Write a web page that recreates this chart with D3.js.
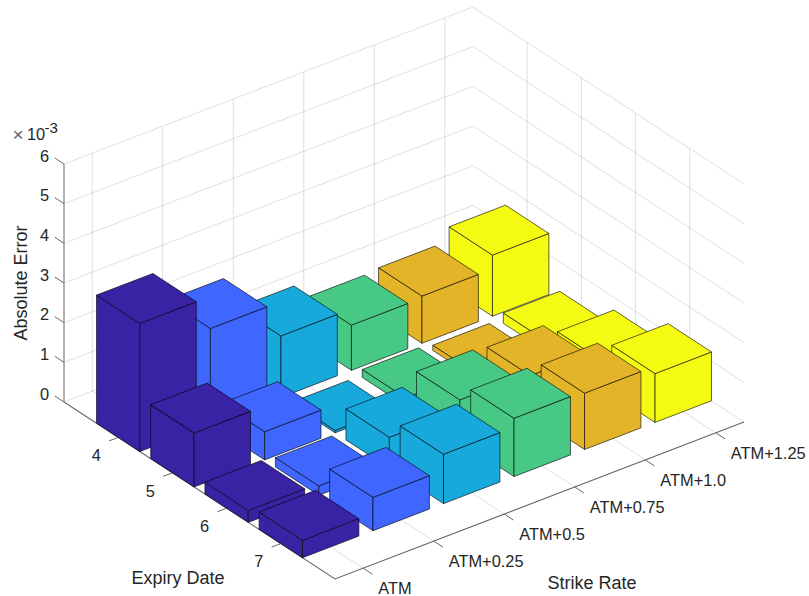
<!DOCTYPE html>
<html lang="en">
<head>
  <meta charset="UTF-8">
  <title>Absolute Error by Strike Rate and Expiry Date</title>
  <script src="https://d3js.org/d3.v7.min.js"></script>
  <style>
    body { margin: 0; background: #fff; }
    svg { display: block; }
    text { font-family: "Liberation Sans", Arial, sans-serif; fill: #262626; }
    .tick { font-size: 16.4px; }
    .label { font-size: 18px; }
  </style>
</head>
<body>
  <svg id="chart" width="809" height="596"></svg>

  <script>
    const strikeLabels = ["ATM", "ATM+0.25", "ATM+0.5", "ATM+0.75", "ATM+1.0", "ATM+1.25"];
    const expiryLabels = [4, 5, 6, 7];
    const zTicks = [0, 1, 2, 3, 4, 5, 6];

    // one array per expiry, values in units of 1e-3
    const expiry4 = [3.23, 2.42, 1.55, 1.14, 1.19, 1.54];
    const expiry5 = [1.36, 0.71, 0.06, 0.20, 0.13, 0.26];
    const expiry6 = [0.30, 0.235, 0.78, 1.04, 0.97, 0.68];
    const expiry7 = [0.44, 0.84, 1.245, 1.47, 1.42, 1.23];
    const values = [expiry4, expiry5, expiry6, expiry7];

    const colors = ["#3a22a5", "#3f66ff", "#17a9dc", "#47c885", "#e3b428", "#f5fa12"];

    const svg = d3.select("#chart");

    // the box is an oblique projection, so each data axis adds its own screen offset
    const uDomain = [-0.4, 5.4], vDomain = [3, 8];
    const uX = d3.scaleLinear().domain(uDomain).range([0, 409]);
    const uY = d3.scaleLinear().domain(uDomain).range([0, -157]);
    const vX = d3.scaleLinear().domain(vDomain).range([64, 335]);
    const vY = d3.scaleLinear().domain(vDomain).range([402, 579]);
    const zY = d3.scaleLinear().domain([0, 6]).range([0, -238]);

    const project = (u, v, z) => [uX(u) + vX(v), uY(u) + vY(v) + zY(z)];
    const line = d3.line();
    const path = pts => line(pts.map(p => project(p[0], p[1], p[2])));

    // grid
    const grid = svg.append("g")
      .attr("fill", "none")
      .attr("stroke", "#262626")
      .attr("stroke-opacity", 0.14)
      .attr("stroke-width", 1);

    const uEnd = uDomain[1], vBack = vDomain[0], vFront = vDomain[1], uStart = uDomain[0];

    zTicks.forEach(z => {
      grid.append("path").attr("d", path([[uStart, vBack, z], [uEnd, vBack, z], [uEnd, vFront, z]]));
    });
    strikeLabels.forEach((s, i) => {
      grid.append("path").attr("d", path([[i, vFront, 0], [i, vBack, 0], [i, vBack, 6]]));
    });
    expiryLabels.forEach(e => {
      grid.append("path").attr("d", path([[uStart, e, 0], [uEnd, e, 0], [uEnd, e, 6]]));
    });

    // axis lines and ticks
    const axes = svg.append("g").attr("fill", "none");
    axes.append("path")
      .attr("d", path([[uStart, vBack, 0], [uStart, vFront, 0], [uEnd, vFront, 0]]))
      .attr("stroke", "#666")
      .attr("stroke-width", 1.1);
    axes.append("path")
      .attr("d", path([[uStart, vBack, 0], [uStart, vBack, 6]]))
      .attr("stroke", "#999")
      .attr("stroke-width", 1.5);

    const tickLen = 0.13;
    strikeLabels.forEach((s, i) => {
      axes.append("path")
        .attr("d", path([[i, vFront, 0], [i, vFront + 0.17, 0]]))
        .attr("stroke", "#666");
      const p = project(i, vFront, 0);
      svg.append("text").attr("class", "tick")
        .attr("x", p[0] + 15).attr("y", p[1] + 20.5)
        .attr("dy", "0.35em")
        .text(s);
    });
    expiryLabels.forEach(e => {
      axes.append("path")
        .attr("d", path([[uStart, e, 0], [uStart - tickLen, e, 0]]))
        .attr("stroke", "#666");
      const p = project(uStart, e, 0);
      svg.append("text").attr("class", "tick")
        .attr("x", p[0] - 22).attr("y", p[1] + 18)
        .attr("dy", "0.35em")
        .attr("text-anchor", "middle")
        .text(e);
    });
    zTicks.forEach(z => {
      axes.append("path")
        .attr("d", path([[uStart, vBack, z], [uStart, vBack - 0.17, z]]))
        .attr("stroke", "#666");
      const p = project(uStart, vBack, z);
      svg.append("text").attr("class", "tick")
        .attr("x", p[0] - 15).attr("y", p[1] - 8)
        .attr("dy", "0.35em")
        .attr("text-anchor", "end")
        .text(z);
    });

    // bars, painted from the back corner forward
    const half = 0.4;
    const bars = svg.append("g")
      .attr("stroke", "#000")
      .attr("stroke-opacity", 0.68)
      .attr("stroke-width", 0.9)
      .attr("stroke-linejoin", "round");

    expiryLabels.forEach((e, row) => {
      d3.range(strikeLabels.length - 1, -1, -1).forEach(col => {
        const h = values[row][col];
        const u0 = col - half, u1 = col + half, v0 = e - half, v1 = e + half;
        const g = bars.append("g").attr("fill", colors[col]);
        // left face, right face, top
        g.append("path").attr("d", path([[u0, v0, 0], [u0, v1, 0], [u0, v1, h], [u0, v0, h]]) + "Z");
        g.append("path").attr("d", path([[u0, v1, 0], [u1, v1, 0], [u1, v1, h], [u0, v1, h]]) + "Z");
        g.append("path").attr("d", path([[u0, v0, h], [u0, v1, h], [u1, v1, h], [u1, v0, h]]) + "Z");
      });
    });

    // labels
    svg.append("text").attr("class", "label")
      .attr("text-anchor", "middle")
      .attr("transform", "translate(21,283) rotate(-90)")
      .attr("dy", "0.35em")
      .text("Absolute Error");
    svg.append("text").attr("class", "label")
      .attr("x", 178).attr("y", 578)
      .attr("dy", "0.35em")
      .attr("text-anchor", "middle")
      .text("Expiry Date");
    svg.append("text").attr("class", "label")
      .attr("x", 592).attr("y", 583)
      .attr("dy", "0.35em")
      .attr("text-anchor", "middle")
      .text("Strike Rate");

    // exponent note above the z axis
    svg.append("text").attr("x", 12.5).attr("y", 141).attr("font-size", 19)
      .style("fill", "#666").text("×");
    svg.append("text").attr("x", 27).attr("y", 140).attr("font-size", 16.4).text("10");
    svg.append("text").attr("x", 44.5).attr("y", 133).attr("font-size", 15).text("-3");
  </script>
</body>
</html>
